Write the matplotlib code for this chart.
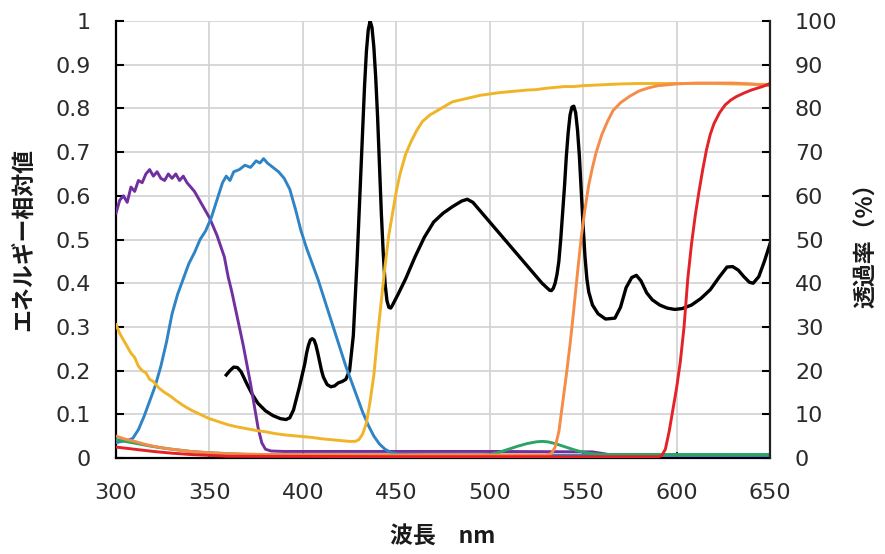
import matplotlib
matplotlib.use("Agg")
import matplotlib.pyplot as plt

# ---- data ----
energy_wl = [359, 361, 363, 365, 367, 370, 373, 376, 380, 384, 388, 391, 393, 395, 398, 401, 402, 403, 404, 405,
             406, 407, 408, 409, 410, 411, 413, 415, 417, 419, 421, 423, 425, 427, 429, 430, 431, 432, 433, 434,
             435, 436, 437, 438, 439, 440, 441, 442, 443, 444, 445, 446, 447, 448, 451, 455, 460, 465, 470, 475,
             480, 485, 488, 491, 495, 500, 510, 520, 528, 530, 532, 533, 534, 535, 536, 537, 538, 539, 540, 541,
             542, 543, 544, 545, 546, 547, 548, 549, 550, 551, 552, 553, 555, 558, 562, 567, 570, 573, 576, 578.5,
             581, 584, 587, 591, 595, 599, 603, 608, 613, 618, 623, 627, 630, 633, 636, 639, 641, 644, 647, 650]
energy_val = [0.190, 0.200, 0.208, 0.207, 0.197, 0.170, 0.145, 0.125, 0.108, 0.097, 0.090, 0.088, 0.092, 0.110,
              0.160, 0.215, 0.240, 0.258, 0.270, 0.273, 0.270, 0.258, 0.240, 0.220, 0.200, 0.185, 0.168, 0.163,
              0.165, 0.172, 0.175, 0.180, 0.200, 0.280, 0.450, 0.550, 0.650, 0.750, 0.850, 0.930, 0.980, 1.000,
              0.985, 0.940, 0.870, 0.780, 0.670, 0.560, 0.470, 0.400, 0.360, 0.345, 0.343, 0.350, 0.375, 0.410,
              0.460, 0.505, 0.540, 0.560, 0.575, 0.588, 0.592, 0.585, 0.565, 0.540, 0.490, 0.440, 0.400, 0.392,
              0.384, 0.383, 0.388, 0.400, 0.420, 0.450, 0.500, 0.560, 0.620, 0.690, 0.745, 0.785, 0.803, 0.805,
              0.790, 0.750, 0.690, 0.610, 0.530, 0.460, 0.410, 0.380, 0.350, 0.330, 0.318, 0.320, 0.345, 0.390,
              0.413, 0.418, 0.405, 0.378, 0.362, 0.350, 0.343, 0.340, 0.342, 0.350, 0.365, 0.385, 0.415, 0.437,
              0.438, 0.430, 0.415, 0.402, 0.400, 0.415, 0.450, 0.490]

purple_wl = [300, 302, 304, 306, 308, 310, 312, 314, 316, 318, 320, 322, 324, 326, 328, 330, 332, 334, 336, 338,
             340, 342, 344, 346, 348, 350, 352, 354, 356, 358, 360, 362, 364, 366, 368, 370, 372, 374, 376, 378,
             380, 383, 390, 450, 500, 555, 565, 650]
purple_val = [56, 59, 60, 58.5, 62, 61, 63.5, 63, 65, 66, 64.5, 65.5, 64, 63.5, 65, 64, 65, 63.5, 64.5, 63,
              62, 61, 59.5, 58, 56.5, 55, 53, 51, 48.5, 46, 41.5, 38, 34, 30, 26, 21.5, 17, 12, 7, 3.5,
              2, 1.6, 1.5, 1.5, 1.5, 1.4, 0.7, 0.6]

blue_wl = [300, 303, 306, 309, 312, 315, 318, 321, 324, 327, 330, 333, 336, 339, 342, 345, 348, 351, 354, 357,
           359, 361, 363, 366, 369, 372, 375, 377, 379, 381, 384, 387, 390, 393, 396, 399, 402, 405, 408, 411,
           414, 417, 420, 423, 426, 429, 432, 435, 438, 441, 444, 447, 450, 455, 470, 550, 650]
blue_val = [3.5, 3.8, 4.0, 4.5, 6.5, 9.5, 13, 16.5, 21, 26.5, 33, 37.5, 41, 44.5, 47, 50, 52, 55, 59, 63,
            64.5, 63.5, 65.5, 66, 67, 66.5, 68, 67.5, 68.5, 67.5, 66.5, 65.5, 64, 61.5, 57, 52, 48, 44.5, 41, 37,
            33, 29, 25, 21, 17.5, 14, 10.5, 7.5, 5, 3.2, 2, 1.3, 1.0, 0.8, 0.7, 0.6, 0.6]

yellow_wl = [300, 302, 304, 306, 308, 310, 312, 314, 316, 318, 320, 323, 326, 329, 332, 335, 338, 341, 344, 347,
             350, 355, 360, 365, 370, 375, 380, 385, 390, 395, 400, 405, 410, 415, 420, 425, 428, 430, 432, 434,
             436, 438, 440, 442, 444, 446, 448, 450, 452, 455, 458, 461, 464, 468, 472, 476, 480, 485, 490, 495,
             500, 505, 510, 515, 520, 525, 530, 535, 540, 545, 550, 555, 560, 570, 580, 590, 600, 610, 620, 630,
             640, 650]
yellow_val = [30.5, 28.5, 27, 25.5, 24, 23, 21, 20, 19.5, 18, 17.5, 16, 15, 14.2, 13.2, 12.3, 11.5, 10.8, 10.2, 9.6,
              9, 8.3, 7.6, 7.1, 6.7, 6.3, 6.0, 5.6, 5.3, 5.1, 4.9, 4.7, 4.4, 4.2, 4.0, 3.8, 3.8, 4.2, 5.5, 8,
              13, 19, 28, 36, 44, 51, 56, 61, 65, 69.5, 72.5, 75, 77, 78.5, 79.5, 80.5, 81.5, 82, 82.5, 83,
              83.3, 83.6, 83.8, 84, 84.2, 84.3, 84.6, 84.8, 85, 85, 85.2, 85.3, 85.4, 85.6, 85.7, 85.7, 85.7, 85.7, 85.7, 85.6,
              85.5, 85.5]

green_wl = [300, 305, 310, 315, 320, 325, 330, 340, 350, 360, 370, 400, 450, 495, 500, 505, 510, 515, 520, 525,
            528, 531, 535, 540, 545, 550, 555, 560, 600, 650]
green_val = [4.2, 3.8, 3.4, 3.0, 2.6, 2.3, 2.0, 1.5, 1.2, 1.0, 0.8, 0.7, 0.7, 0.7, 0.8, 1.3, 2.0, 2.7, 3.3, 3.7,
             3.8, 3.7, 3.3, 2.6, 1.9, 1.3, 1.0, 0.8, 0.8, 0.8]

orange_wl = [300, 305, 310, 315, 320, 325, 330, 340, 350, 360, 380, 450, 530, 533, 535, 537, 539, 541, 543, 545,
             547, 549, 551, 553, 555, 557, 560, 563, 566, 570, 575, 580, 585, 590, 600, 610, 620, 630, 640, 645, 650]
orange_val = [5, 4.3, 3.8, 3.2, 2.7, 2.3, 2.0, 1.5, 1.2, 1.0, 0.8, 0.7, 0.7, 1.0, 2.5, 6, 12.5, 19, 26, 34,
              42.5, 50.5, 57, 62.5, 66.5, 70, 74, 77, 79.5, 81.3, 82.8, 84, 84.7, 85.2, 85.6, 85.8, 85.8, 85.8, 85.6, 85.4, 85.2]

red_wl = [300, 310, 320, 330, 340, 350, 360, 450, 590, 592, 594, 596, 598, 600, 602, 604, 606, 608, 610, 612,
          614, 616, 618, 620, 623, 626, 629, 632, 636, 640, 646, 650]
red_val = [2.5, 2.0, 1.5, 1.1, 0.8, 0.6, 0.4, 0.3, 0.3, 0.5, 2, 6, 11, 16, 22, 30, 41, 49, 55.5, 61,
           66, 70.5, 74, 76.5, 79, 80.8, 81.9, 82.7, 83.5, 84.2, 85, 85.7]

x_ticks = [300, 350, 400, 450, 500, 550, 600, 650]
left_ticks = [0, 0.1, 0.2, 0.3, 0.4, 0.5, 0.6, 0.7, 0.8, 0.9, 1]
left_labels = ["0", "0.1", "0.2", "0.3", "0.4", "0.5", "0.6", "0.7", "0.8", "0.9", "1"]
right_ticks = [0, 10, 20, 30, 40, 50, 60, 70, 80, 90, 100]
right_labels = ["0", "10", "20", "30", "40", "50", "60", "70", "80", "90", "100"]

x_label = "波長　nm"
left_label = "エネルギー相対値"
right_label = "透過率（%）"

# ---- style ----
CJK = ["Noto Sans CJK JP", "DejaVu Sans"]
TICK_FS = 16
LABEL_FS = 16.5
tick_color = "#2b2b2b"

fig = plt.figure(figsize=(8.85, 5.54), dpi=100)
ax = fig.add_axes([116 / 885, (554 - 458) / 554, (770 - 116) / 885, (458 - 21) / 554])
ax2 = ax.twinx()

ax.set_xlim(300, 650)
ax.set_ylim(0, 1)
ax2.set_ylim(0, 100)

ax.grid(True, color="#d4d4d4", linewidth=1.3)
ax.set_axisbelow(True)

ax.plot(energy_wl, energy_val, color="black", linewidth=2.4, zorder=3, solid_joinstyle="round")

lw = 2.1
ax2.plot(purple_wl, purple_val, color="#7030a0", linewidth=lw)
ax2.plot(blue_wl, blue_val, color="#2e84c4", linewidth=lw)
ax2.plot(yellow_wl, yellow_val, color="#f0b429", linewidth=lw)
ax2.plot(green_wl, green_val, color="#2ba466", linewidth=lw)
ax2.plot(orange_wl, orange_val, color="#f58c4a", linewidth=lw)
ax2.plot(red_wl, red_val, color="#e52228", linewidth=lw)

ax.set_xticks(x_ticks)
ax.set_xticklabels([str(t) for t in x_ticks])
ax.set_yticks(left_ticks)
ax.set_yticklabels(left_labels)
ax2.set_yticks(right_ticks)
ax2.set_yticklabels(right_labels)

ax.tick_params(axis="x", direction="in", length=4, width=1.2, pad=18, labelsize=TICK_FS, labelcolor=tick_color)
ax.tick_params(axis="y", direction="in", length=6, width=1.5, pad=18, labelsize=TICK_FS, labelcolor=tick_color)
ax2.tick_params(axis="y", direction="in", length=6, width=1.5, pad=18, labelsize=TICK_FS, labelcolor=tick_color)

for a in (ax, ax2):
    a.spines["top"].set_visible(False)
ax.spines["left"].set_linewidth(1.6)
ax.spines["left"].set_color("black")
ax.spines["bottom"].set_linewidth(1.6)
ax.spines["bottom"].set_color("black")
ax2.spines["right"].set_linewidth(1.6)
ax2.spines["right"].set_color("#222222")
ax2.spines["left"].set_visible(False)
ax2.spines["bottom"].set_visible(False)
ax.spines["right"].set_visible(False)

fig.text(443 / 885, 1 - 537 / 554, x_label, ha="center", va="center",
         fontsize=LABEL_FS, fontweight="bold", family=CJK, color="#1a1a1a")
fig.text(25 / 885, 1 - 240 / 554, left_label, ha="center", va="center", rotation=90,
         fontsize=LABEL_FS, fontweight="bold", family=CJK, color="#1a1a1a")
fig.text(867 / 885, 1 - 240 / 554, right_label, ha="center", va="center", rotation=90,
         fontsize=LABEL_FS, fontweight="bold", family=CJK, color="#1a1a1a")

fig.savefig("out.png", dpi=100)
